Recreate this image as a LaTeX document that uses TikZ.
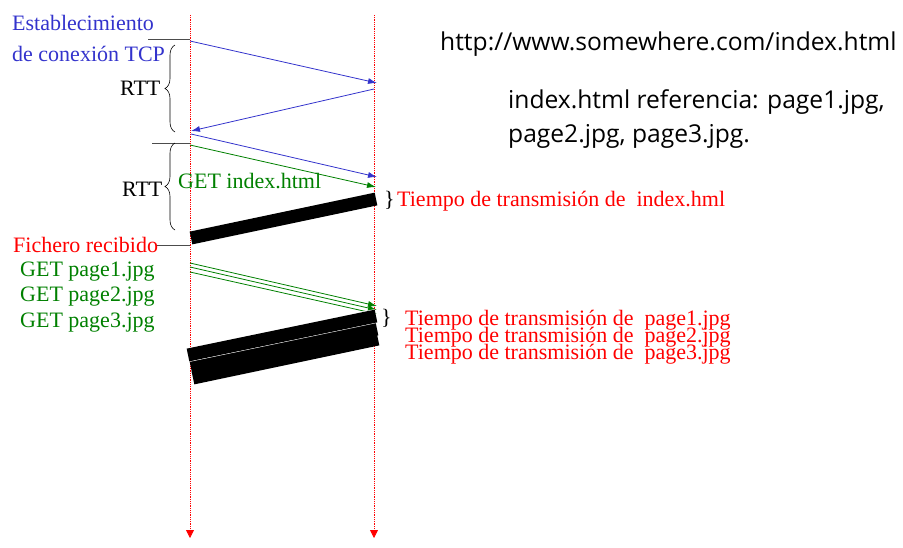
\documentclass[tikz,border=0pt]{standalone}
\usepackage{fontspec}
\setmainfont{Liberation Serif}
\newfontfamily\notefont{Open Sans}
\usetikzlibrary{arrows.meta, positioning, calc, decorations.pathreplacing}
\definecolor{msgblue}{RGB}{51,51,204}
\definecolor{msggreen}{RGB}{0,128,0}

\begin{document}
\begin{tikzpicture}[
    x=1pt, y=-1pt,
    lbl/.style={font=\fontsize{22}{24}\selectfont, inner sep=0pt, anchor=base west},
    note/.style={font=\notefont\fontsize{24.6}{28}\selectfont, inner sep=0pt, anchor=base west},
    lifeline/.style={red, densely dotted, line width=0.8pt, -{Triangle[length=8pt,width=8pt]}},
    msg/.style={line width=0.8pt, -{Latex[length=9pt,width=6pt]}},
    txbar/.style={line width=13pt},
    tick/.style={line width=0.8pt, black!70},
    rtt/.style={decorate, decoration={brace, amplitude=10pt}, line width=0.6pt}
]
    \useasboundingbox (0,0) rectangle (903,547);

    \coordinate (cTop) at (190,15);
    \coordinate (cEnd) at (190,538);
    \coordinate (sTop) at (374,15);
    \coordinate (sEnd) at (374,538);
    \draw [lifeline] (cTop) -- (cEnd);
    \draw [lifeline] (sTop) -- (sEnd);

    % TCP handshake
    \coordinate (syn0) at (190,41);   \coordinate (syn1) at (377,83);
    \coordinate (ack0) at (374,89);   \coordinate (ack1) at (191,131);
    \coordinate (fin0) at (191,134);  \coordinate (fin1) at (377,177);
    \coordinate (get0) at (190,145);  \coordinate (get1) at (376,187);
    \draw [msg, msgblue] (syn0) -- (syn1);
    \draw [msg, msgblue] (ack0) -- (ack1);
    \draw [msg, msgblue] (fin0) -- (fin1);
    \draw [msg, msggreen] (get0) -- (get1);

    % pages
    \coordinate (pa0) at (190,263);  \coordinate (pa1) at (377,306);
    \coordinate (pb0) at (190,267);  \coordinate (pb1) at (377,310);
    \coordinate (pc0) at (190,272);  \coordinate (pc1) at (377,314);
    \draw [msg, msggreen] (pa0) -- (pa1);
    \draw [msg, msggreen] (pb0) -- (pb1);
    \draw [msg, msggreen] (pc0) -- (pc1);

    % transmission bars
    \coordinate (ix0) at (191,238);  \coordinate (ix1) at (376,199);
    \coordinate (bc0) at (193,378);  \coordinate (bc1) at (378,339);
    \coordinate (bb0) at (191,368);  \coordinate (bb1) at (377,329);
    \coordinate (ba0) at (188,355);  \coordinate (ba1) at (376,316);
    \draw [txbar] (ix0) -- (ix1);
    \draw [txbar] (bc0) -- (bc1);
    \draw [txbar] (bb0) -- (bb1);
    \draw [white, line width=0.5pt, double=black, double distance=13pt] (ba0) -- (ba1);

    % ticks and braces
    \coordinate (t1) at (148,39);
    \coordinate (t2) at (152,143);
    \coordinate (t3) at (157,245);
    \draw [tick] (t1) -- (syn0 |- t1);
    \draw [tick] (t2) -- (syn0 |- t2);
    \draw [tick] (t3) -- (syn0 |- t3);
    \coordinate (r1a) at (175,45);   \coordinate (r1b) at (175,132);
    \coordinate (r2a) at (175,143);  \coordinate (r2b) at (175,230);
    \draw [rtt] (r1b) -- (r1a);
    \draw [rtt] (r2b) -- (r2a);

    % labels
    \node [lbl, msgblue] (estab) at (12,30) {Establecimiento};
    \node [lbl, msgblue] (conex) at (12,61) {de conexión TCP};
    \node [lbl] (rttA) at (120,95) {RTT};
    \node [lbl] (rttB) at (122,196) {RTT};
    \node [lbl, msggreen] (getidx) at (178,188) {GET index.html};
    \node [lbl, red] (fich) at (13,252) {Fichero recibido};
    \node [lbl, msggreen] (getp1) at (20,276) {GET page1.jpg};
    \node [lbl, msggreen] (getp2) at (20,301) {GET page2.jpg};
    \node [lbl, msggreen] (getp3) at (20,327) {GET page3.jpg};
    \node [lbl] (brIdx) at (384,206) {\}};
    \node [lbl, red] (txIdx) at (397,206) {Tiempo de transmisión de~ index.hml};
    \node [lbl] (brPag) at (381,324) {\}};
    \node [lbl, red] (txP1) at (405,325) {Tiempo de transmisión de~ page1.jpg};
    \node [lbl, red] (txP2) at (405,342) {Tiempo de transmisión de~ page2.jpg};
    \node [lbl, red] (txP3) at (405,359) {Tiempo de transmisión de~ page3.jpg};

    \node [note] (url) at (440,50) {http://www.somewhere.com/index.html};
    \node [note] (refA) at (508,108) {index.html referencia: page1.jpg,};
    \node [note] (refB) at (508,142) {page2.jpg, page3.jpg.};
\end{tikzpicture}
\end{document}
